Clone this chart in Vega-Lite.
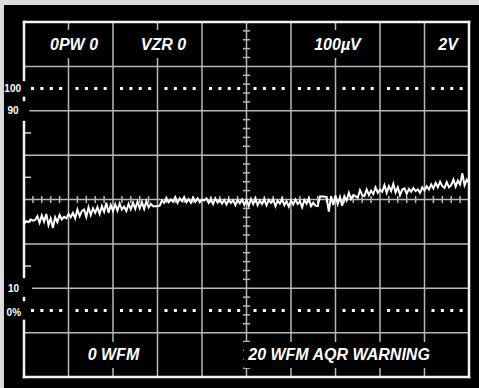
{
  "$schema": "https://vega.github.io/schema/vega-lite/v6.json",
  "width": 445,
  "height": 355,
  "autosize": {"type": "none"},
  "padding": {"left": 24, "top": 22, "right": 10, "bottom": 11},
  "background": "#dcdcdc",
  "config": {"view": {"stroke": null}},
  "datasets": {
    "screen": [{"x": -4.5, "x2": 110, "y": -40, "y2": 137.66}],
    "vgrid": [{"x": 10}, {"x": 20}, {"x": 30}, {"x": 40}, {"x": 50}, {"x": 60}, {"x": 70}, {"x": 80}, {"x": 90}],
    "hgrid": [
      {"y": -10, "x": 0, "x2": 100}, {"y": 10, "x": 1.8, "x2": 100}, {"y": 30, "x": 0, "x2": 100},
      {"y": 50, "x": 0, "x2": 100}, {"y": 70, "x": 0, "x2": 100}, {"y": 90, "x": 1.2, "x2": 100},
      {"y": 110, "x": 0, "x2": 100}
    ],
    "vticks": [
      {"y": -26}, {"y": -22}, {"y": -18}, {"y": -14}, {"y": -6}, {"y": -2}, {"y": 2}, {"y": 6},
      {"y": 14}, {"y": 18}, {"y": 22}, {"y": 26}, {"y": 34}, {"y": 38}, {"y": 42}, {"y": 46},
      {"y": 54}, {"y": 58}, {"y": 62}, {"y": 66}, {"y": 74}, {"y": 78}, {"y": 82}, {"y": 86},
      {"y": 94}, {"y": 98}, {"y": 102}, {"y": 106}, {"y": 114}, {"y": 118}, {"y": 122}, {"y": 126}
    ],
    "hticks": [
      {"x": 2}, {"x": 4}, {"x": 6}, {"x": 8}, {"x": 12}, {"x": 14}, {"x": 16}, {"x": 18},
      {"x": 22}, {"x": 24}, {"x": 26}, {"x": 28}, {"x": 32}, {"x": 34}, {"x": 36}, {"x": 38},
      {"x": 42}, {"x": 44}, {"x": 46}, {"x": 48}, {"x": 52}, {"x": 54}, {"x": 56}, {"x": 58},
      {"x": 62}, {"x": 64}, {"x": 66}, {"x": 68}, {"x": 72}, {"x": 74}, {"x": 76}, {"x": 78},
      {"x": 82}, {"x": 84}, {"x": 86}, {"x": 88}, {"x": 92}, {"x": 94}, {"x": 96}, {"x": 98}
    ],
    "lticks": [{"y": 20}, {"y": 40}, {"y": 60}, {"y": 80}],
    "dots": [
      {"x": 1.57, "x2": 8.6, "y": 100}, {"x": 11.57, "x2": 18.6, "y": 100}, {"x": 21.57, "x2": 28.6, "y": 100},
      {"x": 31.57, "x2": 38.6, "y": 100}, {"x": 41.57, "x2": 48.6, "y": 100}, {"x": 51.57, "x2": 58.6, "y": 100},
      {"x": 61.57, "x2": 68.6, "y": 100}, {"x": 71.57, "x2": 78.6, "y": 100}, {"x": 81.57, "x2": 88.6, "y": 100},
      {"x": 91.57, "x2": 98.6, "y": 100},
      {"x": 1.57, "x2": 8.6, "y": 0}, {"x": 11.57, "x2": 18.6, "y": 0}, {"x": 21.57, "x2": 28.6, "y": 0},
      {"x": 31.57, "x2": 38.6, "y": 0}, {"x": 41.57, "x2": 48.6, "y": 0}, {"x": 51.57, "x2": 58.6, "y": 0},
      {"x": 61.57, "x2": 68.6, "y": 0}, {"x": 71.57, "x2": 78.6, "y": 0}, {"x": 81.57, "x2": 88.6, "y": 0},
      {"x": 91.57, "x2": 98.6, "y": 0}
    ],
    "boxes": [
      {"x": 5.2, "x2": 17.3, "y": 113.8, "y2": 126.4},
      {"x": 25.8, "x2": 36.9, "y": 113.8, "y2": 126.4},
      {"x": 64.9, "x2": 76.0, "y": 113.8, "y2": 126.4},
      {"x": 92.6, "x2": 98.0, "y": 113.8, "y2": 126.4},
      {"x": 13.7, "x2": 26.5, "y": -25.9, "y2": -14.2},
      {"x": 49.4, "x2": 91.9, "y": -25.9, "y2": -14.2}
    ],
    "frame": [
      {"x": 0, "x2": 100, "y": 130, "y2": 130},
      {"x": 0, "x2": 100, "y": -30, "y2": -30},
      {"x": 100, "x2": 100, "y": -30, "y2": 130},
      {"x": 0, "x2": 0, "y": 103.9, "y2": 130},
      {"x": 0, "x2": 0, "y": 94.85, "y2": 95.8},
      {"x": 0, "x2": 0, "y": 15.1, "y2": 84.9},
      {"x": 0, "x2": 0, "y": 4.7, "y2": 5.6},
      {"x": 0, "x2": 0, "y": -30, "y2": -4.7}
    ],
    "scalelabels": [
      {"x": -0.67, "y": 99.6, "label": "100"},
      {"x": -1.2, "y": 90.0, "label": "90"},
      {"x": -1.1, "y": 9.45, "label": "10"},
      {"x": -0.67, "y": -1.05, "label": "0%"}
    ],
    "labels": [
      {"x": 11.24, "y": 119.6, "label": "0PW 0"},
      {"x": 31.35, "y": 119.6, "label": "VZR 0"},
      {"x": 70.45, "y": 119.6, "label": "100µV"},
      {"x": 95.3, "y": 119.6, "label": "2V"},
      {"x": 20.1, "y": -19.9, "label": "0 WFM"},
      {"x": 70.8, "y": -19.9, "label": "20 WFM AQR WARNING"}
    ],
    "wave": [
      {"x": 0, "y": 39.0}, {"x": 0.5, "y": 40.2}, {"x": 1, "y": 39.8}, {"x": 1.5, "y": 41.0}, {"x": 2, "y": 40.5},
      {"x": 2.5, "y": 40.8}, {"x": 3, "y": 42.5}, {"x": 3.5, "y": 39.5}, {"x": 4, "y": 42.8}, {"x": 4.5, "y": 40.0},
      {"x": 5, "y": 43.5}, {"x": 5.5, "y": 38.5}, {"x": 6, "y": 41.5}, {"x": 6.5, "y": 37.2}, {"x": 7, "y": 42.0},
      {"x": 7.5, "y": 39.8}, {"x": 8, "y": 43.0}, {"x": 8.5, "y": 41.0}, {"x": 9, "y": 42.2}, {"x": 9.5, "y": 41.5},
      {"x": 10, "y": 43.5}, {"x": 10.5, "y": 42.0}, {"x": 11, "y": 44.0}, {"x": 11.5, "y": 41.5}, {"x": 12, "y": 45.5},
      {"x": 12.5, "y": 42.5}, {"x": 13, "y": 44.8}, {"x": 13.5, "y": 45.5}, {"x": 14, "y": 42.2}, {"x": 14.5, "y": 46.5},
      {"x": 15, "y": 43.0}, {"x": 15.5, "y": 46.0}, {"x": 16, "y": 44.0}, {"x": 16.5, "y": 46.5}, {"x": 17, "y": 43.5},
      {"x": 17.5, "y": 47.0}, {"x": 18, "y": 44.5}, {"x": 18.5, "y": 48.5}, {"x": 19, "y": 44.0}, {"x": 19.5, "y": 47.5},
      {"x": 20, "y": 44.8}, {"x": 20.5, "y": 47.8}, {"x": 21, "y": 45.0}, {"x": 21.5, "y": 48.2}, {"x": 22, "y": 45.5},
      {"x": 22.5, "y": 46.8}, {"x": 23, "y": 44.8}, {"x": 23.5, "y": 48.0}, {"x": 24, "y": 45.6}, {"x": 24.5, "y": 48.5},
      {"x": 25, "y": 45.8}, {"x": 25.5, "y": 49.0}, {"x": 26, "y": 46.0}, {"x": 26.5, "y": 48.8}, {"x": 27, "y": 45.8},
      {"x": 27.5, "y": 49.2}, {"x": 28, "y": 46.5}, {"x": 28.5, "y": 48.0}, {"x": 29, "y": 47.0}, {"x": 29.5, "y": 47.0},
      {"x": 30, "y": 47.0}, {"x": 30.5, "y": 47.2}, {"x": 31, "y": 49.5}, {"x": 31.5, "y": 48.5}, {"x": 32, "y": 50.5},
      {"x": 32.5, "y": 48.8}, {"x": 33, "y": 50.0}, {"x": 33.5, "y": 49.0}, {"x": 34, "y": 51.0}, {"x": 34.5, "y": 48.5},
      {"x": 35, "y": 50.5}, {"x": 35.5, "y": 49.2}, {"x": 36, "y": 51.0}, {"x": 36.5, "y": 48.8}, {"x": 37, "y": 50.2},
      {"x": 37.5, "y": 48.5}, {"x": 38, "y": 50.8}, {"x": 38.5, "y": 49.0}, {"x": 39, "y": 50.5}, {"x": 39.5, "y": 48.8},
      {"x": 40, "y": 50.0}, {"x": 40.5, "y": 49.5}, {"x": 41, "y": 50.5}, {"x": 41.5, "y": 48.5}, {"x": 42, "y": 50.2},
      {"x": 42.5, "y": 48.0}, {"x": 43, "y": 50.5}, {"x": 43.5, "y": 48.6}, {"x": 44, "y": 50.0}, {"x": 44.5, "y": 48.2},
      {"x": 45, "y": 49.8}, {"x": 45.5, "y": 47.8}, {"x": 46, "y": 50.0}, {"x": 46.5, "y": 48.5}, {"x": 47, "y": 49.6},
      {"x": 47.5, "y": 47.5}, {"x": 48, "y": 49.8}, {"x": 48.5, "y": 48.3}, {"x": 49, "y": 50.0}, {"x": 49.5, "y": 47.6},
      {"x": 50, "y": 49.8}, {"x": 50.5, "y": 47.2}, {"x": 51, "y": 50.2}, {"x": 51.5, "y": 48.0}, {"x": 52, "y": 50.5},
      {"x": 52.5, "y": 47.5}, {"x": 53, "y": 49.5}, {"x": 53.5, "y": 48.0}, {"x": 54, "y": 50.2}, {"x": 54.5, "y": 47.4},
      {"x": 55, "y": 49.8}, {"x": 55.5, "y": 48.5}, {"x": 56, "y": 50.0}, {"x": 56.5, "y": 47.0}, {"x": 57, "y": 49.5},
      {"x": 57.5, "y": 48.2}, {"x": 58, "y": 50.3}, {"x": 58.5, "y": 47.5}, {"x": 59, "y": 49.2}, {"x": 59.5, "y": 46.8},
      {"x": 60, "y": 49.5}, {"x": 60.5, "y": 47.8}, {"x": 61, "y": 50.0}, {"x": 61.5, "y": 48.0}, {"x": 62, "y": 49.2},
      {"x": 62.5, "y": 46.5}, {"x": 63, "y": 49.8}, {"x": 63.5, "y": 48.2}, {"x": 64, "y": 50.5}, {"x": 64.5, "y": 47.0},
      {"x": 65, "y": 48.5}, {"x": 65.5, "y": 47.2}, {"x": 66, "y": 47.0}, {"x": 66.5, "y": 51.3}, {"x": 67, "y": 51.3},
      {"x": 67.5, "y": 51.3}, {"x": 68, "y": 51.0}, {"x": 68.5, "y": 44.5}, {"x": 69, "y": 51.5}, {"x": 69.5, "y": 47.5},
      {"x": 70, "y": 51.8}, {"x": 70.5, "y": 48.0}, {"x": 71, "y": 51.2}, {"x": 71.5, "y": 47.2}, {"x": 72, "y": 51.5},
      {"x": 72.5, "y": 49.5}, {"x": 73, "y": 53.0}, {"x": 73.5, "y": 50.2}, {"x": 74, "y": 52.0}, {"x": 74.5, "y": 51.5},
      {"x": 75, "y": 50.8}, {"x": 75.5, "y": 54.2}, {"x": 76, "y": 52.0}, {"x": 76.5, "y": 51.5}, {"x": 77, "y": 54.5},
      {"x": 77.5, "y": 52.0}, {"x": 78, "y": 54.0}, {"x": 78.5, "y": 52.5}, {"x": 79, "y": 55.5}, {"x": 79.5, "y": 53.0},
      {"x": 80, "y": 54.5}, {"x": 80.5, "y": 53.5}, {"x": 81, "y": 56.5}, {"x": 81.5, "y": 53.0}, {"x": 82, "y": 56.0},
      {"x": 82.5, "y": 53.8}, {"x": 83, "y": 57.0}, {"x": 83.5, "y": 53.2}, {"x": 84, "y": 55.5}, {"x": 84.5, "y": 52.0},
      {"x": 85, "y": 54.5}, {"x": 85.5, "y": 55.0}, {"x": 86, "y": 52.5}, {"x": 86.5, "y": 54.8}, {"x": 87, "y": 53.5},
      {"x": 87.5, "y": 55.2}, {"x": 88, "y": 53.8}, {"x": 88.5, "y": 54.5}, {"x": 89, "y": 53.0}, {"x": 89.5, "y": 55.5},
      {"x": 90, "y": 54.0}, {"x": 90.5, "y": 56.0}, {"x": 91, "y": 54.5}, {"x": 91.5, "y": 56.8}, {"x": 92, "y": 55.0},
      {"x": 92.5, "y": 57.5}, {"x": 93, "y": 55.5}, {"x": 93.5, "y": 58.0}, {"x": 94, "y": 56.0}, {"x": 94.5, "y": 55.2},
      {"x": 95, "y": 57.8}, {"x": 95.5, "y": 55.5}, {"x": 96, "y": 56.5}, {"x": 96.5, "y": 59.0}, {"x": 97, "y": 55.8},
      {"x": 97.5, "y": 58.5}, {"x": 98, "y": 56.8}, {"x": 98.5, "y": 61.8}, {"x": 99, "y": 56.5}, {"x": 99.5, "y": 59.0},
      {"x": 100, "y": 57.5}
    ]
  },
  "layer": [
    {
      "data": {"name": "screen"},
      "mark": {"type": "rect", "color": "#000000"},
      "encoding": {
        "x": {"field": "x", "type": "quantitative", "scale": {"domain": [0, 100], "nice": false, "zero": false}, "axis": null},
        "x2": {"field": "x2"},
        "y": {"field": "y", "type": "quantitative", "scale": {"domain": [-30, 130], "nice": false, "zero": false}, "axis": null},
        "y2": {"field": "y2"}
      }
    },
    {
      "data": {"name": "vgrid"},
      "mark": {"type": "rule", "color": "#b8b8b8", "strokeWidth": 1.5},
      "encoding": {
        "x": {"field": "x", "type": "quantitative", "scale": {"domain": [0, 100], "nice": false, "zero": false}, "axis": null},
        "y": {"datum": -30, "type": "quantitative", "scale": {"domain": [-30, 130], "nice": false, "zero": false}, "axis": null},
        "y2": {"datum": 130}
      }
    },
    {
      "data": {"name": "hgrid"},
      "mark": {"type": "rule", "color": "#b8b8b8", "strokeWidth": 1.5},
      "encoding": {
        "x": {"field": "x", "type": "quantitative", "scale": {"domain": [0, 100], "nice": false, "zero": false}, "axis": null},
        "x2": {"field": "x2"},
        "y": {"field": "y", "type": "quantitative", "scale": {"domain": [-30, 130], "nice": false, "zero": false}, "axis": null}
      }
    },
    {
      "data": {"name": "vticks"},
      "mark": {"type": "rule", "color": "#b8b8b8", "strokeWidth": 1.5},
      "encoding": {
        "x": {"datum": 49.2, "type": "quantitative", "scale": {"domain": [0, 100], "nice": false, "zero": false}, "axis": null},
        "x2": {"datum": 50.8},
        "y": {"field": "y", "type": "quantitative", "scale": {"domain": [-30, 130], "nice": false, "zero": false}, "axis": null}
      }
    },
    {
      "data": {"name": "hticks"},
      "mark": {"type": "rule", "color": "#b8b8b8", "strokeWidth": 1.5},
      "encoding": {
        "x": {"field": "x", "type": "quantitative", "scale": {"domain": [0, 100], "nice": false, "zero": false}, "axis": null},
        "y": {"datum": 48.4, "type": "quantitative", "scale": {"domain": [-30, 130], "nice": false, "zero": false}, "axis": null},
        "y2": {"datum": 51.6}
      }
    },
    {
      "data": {"name": "lticks"},
      "mark": {"type": "rule", "color": "#d0d0d0", "strokeWidth": 1.5},
      "encoding": {
        "x": {"datum": 0, "type": "quantitative", "scale": {"domain": [0, 100], "nice": false, "zero": false}, "axis": null},
        "x2": {"datum": 1.6},
        "y": {"field": "y", "type": "quantitative", "scale": {"domain": [-30, 130], "nice": false, "zero": false}, "axis": null}
      }
    },
    {
      "data": {"name": "dots"},
      "mark": {"type": "rule", "color": "#ffffff", "strokeWidth": 3, "strokeDash": [3, 6.4], "strokeCap": "butt"},
      "encoding": {
        "x": {"field": "x", "type": "quantitative", "scale": {"domain": [0, 100], "nice": false, "zero": false}, "axis": null},
        "x2": {"field": "x2"},
        "y": {"field": "y", "type": "quantitative", "scale": {"domain": [-30, 130], "nice": false, "zero": false}, "axis": null}
      }
    },
    {
      "data": {"name": "boxes"},
      "mark": {"type": "rect", "color": "#000000"},
      "encoding": {
        "x": {"field": "x", "type": "quantitative", "scale": {"domain": [0, 100], "nice": false, "zero": false}, "axis": null},
        "x2": {"field": "x2"},
        "y": {"field": "y", "type": "quantitative", "scale": {"domain": [-30, 130], "nice": false, "zero": false}, "axis": null},
        "y2": {"field": "y2"}
      }
    },
    {
      "data": {"name": "frame"},
      "mark": {"type": "rule", "color": "#f4f4f4", "strokeWidth": 2.5, "strokeCap": "square"},
      "encoding": {
        "x": {"field": "x", "type": "quantitative", "scale": {"domain": [0, 100], "nice": false, "zero": false}, "axis": null},
        "x2": {"field": "x2"},
        "y": {"field": "y", "type": "quantitative", "scale": {"domain": [-30, 130], "nice": false, "zero": false}, "axis": null},
        "y2": {"field": "y2"}
      }
    },
    {
      "data": {"name": "wave"},
      "mark": {"type": "line", "color": "#ffffff", "strokeWidth": 2, "interpolate": "linear"},
      "encoding": {
        "x": {"field": "x", "type": "quantitative", "scale": {"domain": [0, 100], "nice": false, "zero": false}, "axis": null},
        "y": {"field": "y", "type": "quantitative", "scale": {"domain": [-30, 130], "nice": false, "zero": false}, "axis": null}
      }
    },
    {
      "data": {"name": "scalelabels"},
      "mark": {"type": "text", "color": "#ffffff", "font": "Liberation Sans", "fontSize": 10, "fontWeight": "bold", "align": "right", "baseline": "middle"},
      "encoding": {
        "x": {"field": "x", "type": "quantitative", "scale": {"domain": [0, 100], "nice": false, "zero": false}, "axis": null},
        "y": {"field": "y", "type": "quantitative", "scale": {"domain": [-30, 130], "nice": false, "zero": false}, "axis": null},
        "text": {"field": "label"}
      }
    },
    {
      "data": {"name": "labels"},
      "mark": {"type": "text", "color": "#ffffff", "font": "Liberation Sans", "fontSize": 16, "fontWeight": "bold", "fontStyle": "italic", "align": "center", "baseline": "middle"},
      "encoding": {
        "x": {"field": "x", "type": "quantitative", "scale": {"domain": [0, 100], "nice": false, "zero": false}, "axis": null},
        "y": {"field": "y", "type": "quantitative", "scale": {"domain": [-30, 130], "nice": false, "zero": false}, "axis": null},
        "text": {"field": "label"}
      }
    }
  ]
}
